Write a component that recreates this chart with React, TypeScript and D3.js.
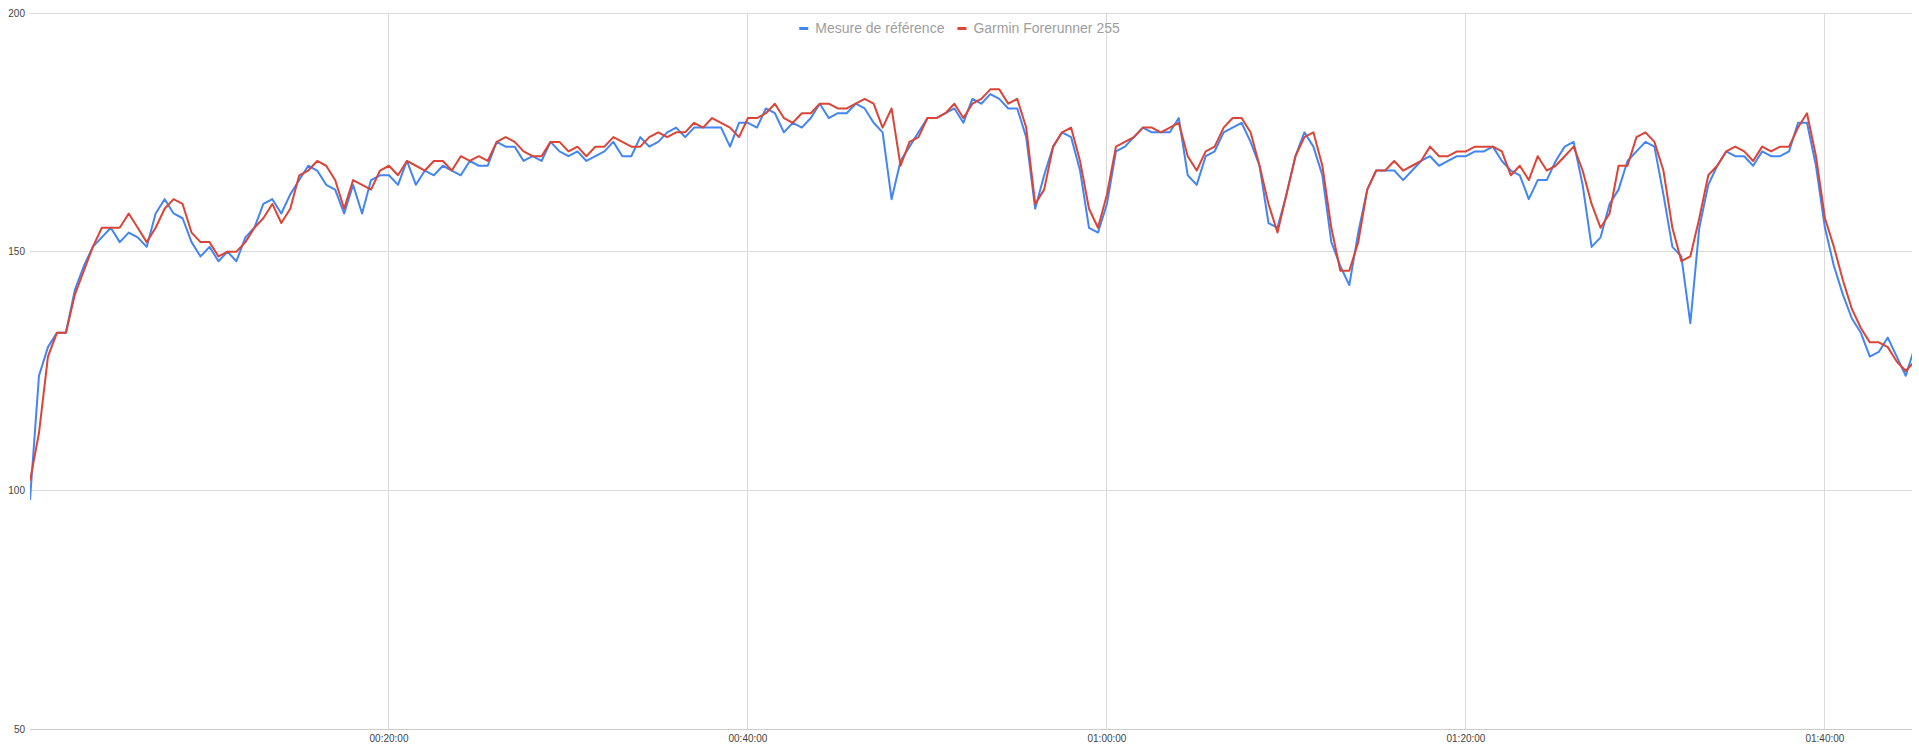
import React, { useRef, useEffect } from 'react';
import * as d3 from 'd3';

// one sample every 30 s
const STEP_SECONDS = 30;

const referenceHR: number[] = [
  98, 124, 130, 133, 133, 142, 147, 151, 153, 155,
  152, 154, 153, 151, 158, 161, 158, 157, 152, 149,
  151, 148, 150, 148, 153, 155, 160, 161, 158, 162,
  165, 168, 167, 164, 163, 158, 164, 158, 165, 166,
  166, 164, 169, 164, 167, 166, 168, 167, 166, 169,
  168, 168, 173, 172, 172, 169, 170, 169, 173, 171,
  170, 171, 169, 170, 171, 173, 170, 170, 174, 172,
  173, 175, 176, 174, 176, 176, 176, 176, 172, 177,
  177, 176, 180, 179, 175, 177, 176, 178, 181, 178,
  179, 179, 181, 180, 177, 175, 161, 169, 172, 175,
  178, 178, 179, 180, 177, 182, 181, 183, 182, 180,
  180, 174, 159, 166, 172, 175, 174, 167, 155, 154,
  160, 171, 172, 174, 176, 175, 175, 175, 178, 166,
  164, 170, 171, 175, 176, 177, 173, 168, 156, 155,
  162, 170, 175, 172, 166, 152, 147, 143, 154, 163,
  167, 167, 167, 165, 167, 169, 170, 168, 169, 170,
  170, 171, 171, 172, 169, 167, 166, 161, 165, 165,
  169, 172, 173, 164, 151, 153, 160, 163, 169, 171,
  173, 172, 162, 151, 149, 135, 155, 164, 168, 171,
  170, 170, 168, 171, 170, 170, 171, 177, 177, 168,
  155, 147, 141, 136, 133, 128, 129, 132, 128, 124,
  130,
];

const garminHR: number[] = [
  102, 112, 128, 133, 133, 141, 146, 151, 155, 155,
  155, 158, 155, 152, 155, 159, 161, 160, 154, 152,
  152, 149, 150, 150, 152, 155, 157, 160, 156, 159,
  166, 167, 169, 168, 165, 159, 165, 164, 163, 167,
  168, 166, 169, 168, 167, 169, 169, 167, 170, 169,
  170, 169, 173, 174, 173, 171, 170, 170, 173, 173,
  171, 172, 170, 172, 172, 174, 173, 172, 172, 174,
  175, 174, 175, 175, 177, 176, 178, 177, 176, 174,
  178, 178, 179, 181, 178, 177, 179, 179, 181, 181,
  180, 180, 181, 182, 181, 176, 180, 168, 173, 174,
  178, 178, 179, 181, 178, 181, 182, 184, 184, 181,
  182, 176, 160, 163, 172, 175, 176, 169, 159, 155,
  162, 172, 173, 174, 176, 176, 175, 176, 177, 170,
  167, 171, 172, 176, 178, 178, 175, 168, 160, 154,
  162, 170, 174, 175, 168, 155, 146, 146, 152, 163,
  167, 167, 169, 167, 168, 169, 172, 170, 170, 171,
  171, 172, 172, 172, 171, 166, 168, 165, 170, 167,
  168, 170, 172, 167, 160, 155, 158, 168, 168, 174,
  175, 173, 167, 155, 148, 149, 157, 166, 168, 171,
  172, 171, 169, 172, 171, 172, 172, 176, 179, 170,
  157, 151, 144, 138, 134, 131, 131, 130, 127, 125,
  127,
];

const seriesNames = ['Mesure de référence', 'Garmin Forerunner 255'];
const seriesColors = ['#4285f4', '#db4437'];

const yTicks = [50, 100, 150, 200];
const xTickSeconds = [1200, 2400, 3600, 4800, 6000];
const xTickLabels = ['00:20:00', '00:40:00', '01:00:00', '01:20:00', '01:40:00'];

const X_MAX_SECONDS = 6291;

function App(): React.ReactElement {
  const ref = useRef<HTMLDivElement | null>(null);

  useEffect(() => {
    if (!ref.current) return;
    document.body.style.margin = '0';

    const width = 1919;
    const height = 748;
    const margin = { top: 13, right: 7, bottom: 19, left: 30 };

    d3.select(ref.current).selectAll('*').remove();

    const svg = d3
      .select(ref.current)
      .append('svg')
      .attr('width', width)
      .attr('height', height)
      .style('display', 'block')
      .style('font-family', 'Arial, "Liberation Sans", sans-serif');

    const x = d3
      .scaleLinear()
      .domain([0, X_MAX_SECONDS])
      .range([margin.left, width - margin.right]);

    const y = d3
      .scaleLinear()
      .domain([50, 200])
      .range([height - margin.bottom, margin.top]);

    // gridlines
    svg
      .append('g')
      .selectAll('line')
      .data(yTicks)
      .join('line')
      .attr('x1', margin.left)
      .attr('x2', width - margin.right)
      .attr('y1', d => y(d))
      .attr('y2', d => y(d))
      .attr('stroke', d => (d === 50 ? '#cccccc' : '#dadada'))
      .attr('stroke-width', 1)
      .attr('shape-rendering', 'crispEdges');

    svg
      .append('g')
      .selectAll('line')
      .data(xTickSeconds)
      .join('line')
      .attr('x1', d => x(d))
      .attr('x2', d => x(d))
      .attr('y1', margin.top)
      .attr('y2', height - margin.bottom)
      .attr('stroke', '#dadada')
      .attr('stroke-width', 1)
      .attr('shape-rendering', 'crispEdges');

    // tick labels
    svg
      .append('g')
      .selectAll('text')
      .data(yTicks)
      .join('text')
      .attr('x', margin.left - 5)
      .attr('y', d => y(d))
      .attr('dy', '0.35em')
      .attr('text-anchor', 'end')
      .attr('fill', '#444')
      .style('font-size', '10px')
      .text(d => d);

    svg
      .append('g')
      .selectAll('text')
      .data(xTickSeconds)
      .join('text')
      .attr('x', d => x(d))
      .attr('y', height - margin.bottom + 13)
      .attr('text-anchor', 'middle')
      .attr('fill', '#444')
      .style('font-size', '10px')
      .text((_, i) => xTickLabels[i]);

    svg
      .append('defs')
      .append('clipPath')
      .attr('id', 'plotClip')
      .append('rect')
      .attr('x', margin.left)
      .attr('y', 0)
      .attr('width', width - margin.left - margin.right)
      .attr('height', height);

    const line = d3
      .line<number>()
      .x((_, i) => x(i * STEP_SECONDS))
      .y(d => y(d));

    const plot = svg.append('g').attr('clip-path', 'url(#plotClip)');
    [referenceHR, garminHR].forEach((values, i) => {
      plot
        .append('path')
        .attr('fill', 'none')
        .attr('stroke', seriesColors[i])
        .attr('stroke-width', 2)
        .attr('stroke-linejoin', 'round')
        .attr('d', line(values) ?? '');
    });

    // legend, centred at the top
    const legend = svg.append('g');
    let cursor = 0;
    seriesNames.forEach((name, i) => {
      const item = legend.append('g').attr('transform', `translate(${cursor},0)`);
      item
        .append('rect')
        .attr('x', 0)
        .attr('y', 27)
        .attr('width', 9)
        .attr('height', 3)
        .attr('fill', seriesColors[i]);
      const label = item
        .append('text')
        .attr('x', 16)
        .attr('y', 33)
        .attr('fill', '#9e9e9e')
        .style('font-size', '14px')
        .text(name);
      const w = (label.node() as SVGTextElement).getComputedTextLength();
      cursor += 16 + w + 13;
    });
    const legendWidth = cursor - 13;
    legend.attr('transform', `translate(${(width - legendWidth) / 2},0)`);
  }, []);

  return <div ref={ref} style={{ width: 1919, height: 748 }} />;
}

export default App;
